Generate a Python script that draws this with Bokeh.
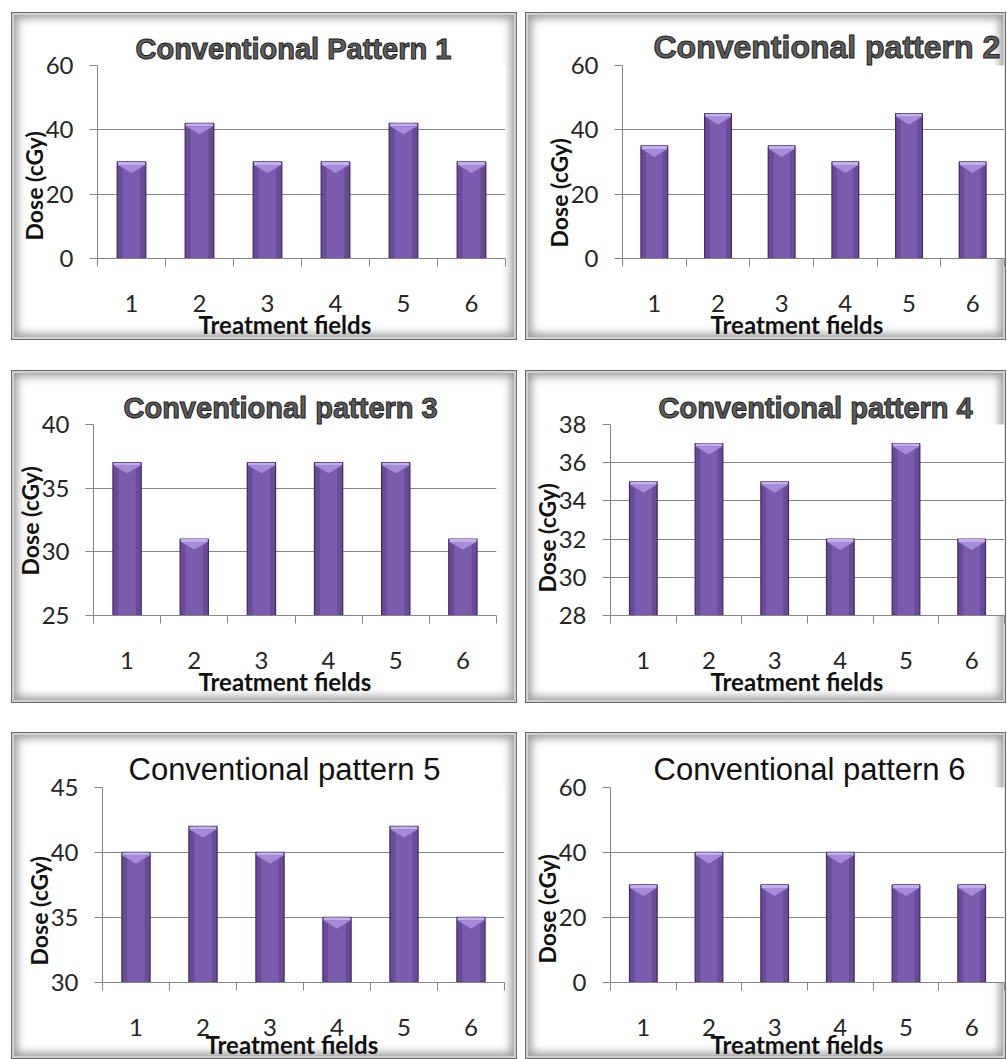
from bokeh.plotting import figure
from bokeh.models import Range1d, FixedTicker, Title, Spacer
from bokeh.layouts import column, row
from bokeh.embed import file_html
from bokeh.resources import INLINE

# ---------------- data ----------------
fields = [1, 2, 3, 4, 5, 6]
x_title = "Treatment fields"
y_title = "Dose (cGy)"

title_p1 = "Conventional Pattern 1"
title_p2 = "Conventional pattern 2"
title_p3 = "Conventional pattern 3"
title_p4 = "Conventional pattern 4"
title_p5 = "Conventional pattern 5"
title_p6 = "Conventional pattern 6"

dose_p1 = [30, 42, 30, 30, 42, 30]
dose_p2 = [35, 45, 35, 30, 45, 30]
dose_p3 = [37, 31, 37, 37, 37, 31]
dose_p4 = [35, 37, 35, 32, 37, 32]
dose_p5 = [40, 42, 40, 35, 42, 35]
dose_p6 = [30, 40, 30, 40, 30, 30]

yrange_p1 = (0, 60)
yrange_p2 = (0, 60)
yrange_p3 = (25, 40)
yrange_p4 = (28, 38)
yrange_p5 = (30, 45)
yrange_p6 = (0, 60)

yticks_p1 = [0, 20, 40, 60]
yticks_p2 = [0, 20, 40, 60]
yticks_p3 = [25, 30, 35, 40]
yticks_p4 = [28, 30, 32, 34, 36, 38]
yticks_p5 = [30, 35, 40, 45]
yticks_p6 = [0, 20, 40, 60]

# ---------------- style ----------------
GRID = "#858585"
TXT = "#262626"
BAR_W = 0.42
FRAME_CSS = {
    "background-color": "white",
    "box-shadow": "inset 0 0 0 1px #6a6a6a, inset 0 0 0 3px #cfcfcf, inset 0 0 10px 6px #989898",
}


def make_panel(title, values, yr, yt, w, h, left, top, pw, ph,
               title_size, title_bold, title_off, ylab_off, xlab_off, xlab_standoff):
    p = figure(width=w, height=h, x_range=Range1d(0.5, 6.5), y_range=Range1d(*yr),
               output_backend="svg", toolbar_location=None,
               min_border_left=left, min_border_top=top,
               min_border_right=w - left - pw, min_border_bottom=h - top - ph)
    p.styles = FRAME_CSS
    p.border_fill_color = None
    p.background_fill_color = "white"
    p.outline_line_color = None

    # title
    p.title.text = title
    p.title.align = "left"
    p.title.offset = title_off
    p.title.text_font = "Liberation Sans"
    p.title.text_font_size = title_size
    p.title.standoff = 2
    if title_bold:
        p.title.text_font_style = "bold"
        p.title.text_color = "#5e5e5e"
        try:
            p.title.text_outline_color = "#1c1c1c"
        except Exception:
            p.title.text_color = "#3a3a3a"
    else:
        p.title.text_font_style = "normal"
        p.title.text_color = "#111111"

    # y axis
    p.yaxis.ticker = FixedTicker(ticks=yt)
    p.yaxis.axis_line_color = GRID
    p.yaxis.major_tick_line_color = GRID
    p.yaxis.major_tick_out = 8
    p.yaxis.major_tick_in = 0
    p.yaxis.minor_tick_line_color = None
    p.yaxis.major_label_standoff = 16
    p.yaxis.major_label_text_font = "Lato"
    p.yaxis.major_label_text_font_size = "24px"
    p.yaxis.major_label_text_color = TXT
    p.ygrid.ticker = FixedTicker(ticks=yt)
    p.ygrid.grid_line_color = GRID
    p.xgrid.grid_line_color = None

    # x axis: labels at field centres, tick marks at the boundaries
    bounds = [f - 0.5 for f in fields] + [fields[-1] + 0.5]
    p.xaxis.ticker = FixedTicker(ticks=fields, minor_ticks=bounds)
    p.xaxis.axis_line_color = GRID
    p.xaxis.major_tick_line_color = None
    p.xaxis.minor_tick_line_color = GRID
    p.xaxis.minor_tick_out = 8
    p.xaxis.minor_tick_in = 0
    p.xaxis.major_label_standoff = 28
    p.xaxis.major_label_text_font = "Lato"
    p.xaxis.major_label_text_font_size = "24px"
    p.xaxis.major_label_text_color = TXT

    ylab = Title(text=y_title, align="left", offset=ylab_off, standoff=-10,
                 text_font="Lato", text_font_size="23px", text_font_style="bold",
                 text_color="#111111")
    p.add_layout(ylab, "left")
    xlab = Title(text=x_title, align="left", offset=xlab_off, standoff=xlab_standoff,
                 vertical_align="top",
                 text_font="Lato", text_font_size="24px", text_font_style="bold",
                 text_color="#111111")
    p.add_layout(xlab, "below")

    # bars with a bevelled top
    base = yr[0]
    ppu = ph / (yr[1] - yr[0])
    d_tri = 11.0 / ppu
    d_strip = 3.0 / ppu
    p.vbar(x=fields, top=values, bottom=base, width=BAR_W,
           fill_color="#6a4b99", line_color="#432b69", line_width=1.3)
    p.vbar(x=fields, top=values, bottom=base, width=BAR_W * 0.62,
           fill_color="#7b5bad", line_color=None)
    p.vbar(x=fields, top=values, bottom=[v - d_strip for v in values], width=BAR_W - 0.02,
           fill_color="#c3aeee", line_color=None)
    xs = [[f - BAR_W / 2 + 0.01, f + BAR_W / 2 - 0.01, f] for f in fields]
    ys = [[v - d_strip, v - d_strip, v - d_tri] for v in values]
    p.patches(xs, ys, fill_color="#a68bd8", line_color=None)
    return p


p1 = make_panel(title_p1, dose_p1, yrange_p1, yticks_p1, 506, 328, 86, 53, 408, 195,
                "29px", True, 38, 18, 101, -10)
p2 = make_panel(title_p2, dose_p2, yrange_p2, yticks_p2, 481, 328, 97, 53, 382, 193,
                "32px", True, 31, 11, 88, -10)
p3 = make_panel(title_p3, dose_p3, yrange_p3, yticks_p3, 506, 333, 82, 54, 403, 200,
                "29px", True, 30, 40, 105, -10)
p4 = make_panel(title_p4, dose_p4, yrange_p4, yticks_p4, 481, 333, 85, 54, 394, 191,
                "29px", True, 48, 23, 100, -10)
p5 = make_panel(title_p5, dose_p5, yrange_p5, yticks_p5, 506, 327, 91, 55, 402, 195,
                "31px", False, 26, 17, 103, -18)
p6 = make_panel(title_p6, dose_p6, yrange_p6, yticks_p6, 481, 327, 85, 54, 394, 196,
                "31px", False, 43, 19, 100, -18)

layout = column(
    Spacer(height=12),
    row(Spacer(width=11), p1, Spacer(width=8), p2),
    Spacer(height=30),
    row(Spacer(width=11), p3, Spacer(width=8), p4),
    Spacer(height=29),
    row(Spacer(width=11), p5, Spacer(width=8), p6),
)

open("out.html", "w").write(file_html(layout, INLINE))
